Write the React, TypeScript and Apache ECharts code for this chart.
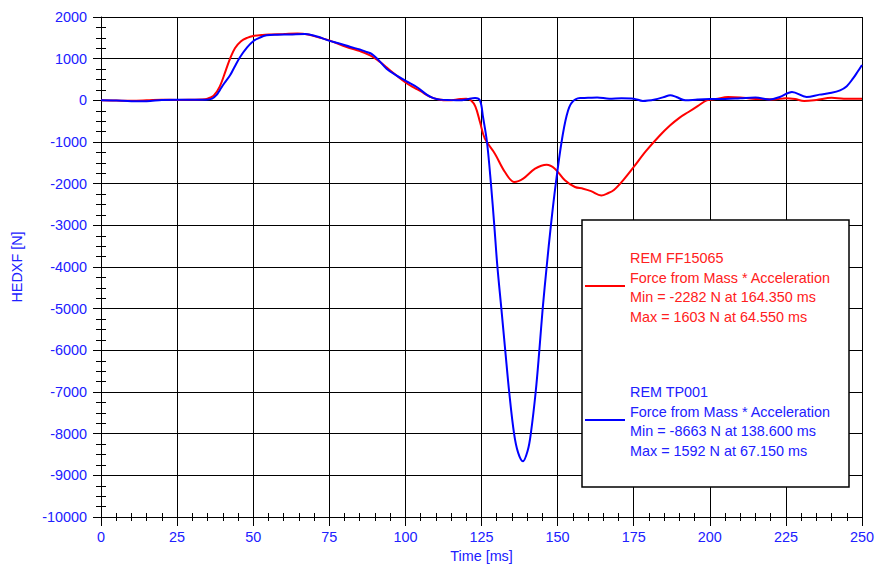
import React, { useEffect, useRef } from "react";
import * as echarts from "echarts";

const xTicks = [0, 25, 50, 75, 100, 125, 150, 175, 200, 225, 250];
const yTicks = [-10000, -9000, -8000, -7000, -6000, -5000, -4000, -3000, -2000, -1000, 0, 1000, 2000];

const redName = "REM FF15065";
const blueName = "REM TP001";
const redInfo = ["REM FF15065", "Force from Mass * Acceleration", "Min = -2282 N at 164.350 ms", "Max = 1603 N at 64.550 ms"];
const blueInfo = ["REM TP001", "Force from Mass * Acceleration", "Min = -8663 N at 138.600 ms", "Max = 1592 N at 67.150 ms"];

const redPoints: number[][] = [
  [0, 0], [5, -5], [10, -10], [15, 0], [20, 15], [25, 10], [30, 15], [33, 20], [35, 40],
  [37, 110], [39, 330], [41, 720], [42.4, 1000], [44, 1250], [46, 1420], [48, 1500], [50, 1545],
  [53, 1570], [56, 1580], [60, 1590], [64.55, 1603], [68, 1580], [72, 1500], [75, 1440],
  [80.7, 1280], [85.1, 1180], [88.4, 1080], [91.7, 920], [94, 780], [97, 600], [100.4, 410],
  [103, 300], [105, 220], [108, 90], [111, 20], [114, 0], [118, 30], [120, 40], [121.5, 0],
  [123, -150], [124.5, -520], [126.1, -920], [129.4, -1280], [132.7, -1720], [135.8, -1960],
  [138.7, -1880], [142.6, -1640], [146.4, -1545], [149.1, -1640], [152.4, -1920], [155.7, -2080],
  [158.4, -2120], [161, -2180], [164.35, -2282], [166.5, -2230], [168.5, -2150], [171.5, -1920],
  [175, -1600], [179, -1220], [183.5, -850], [187, -600], [190, -420], [193, -280], [196, -140],
  [199, 0], [202, 30], [206, 80], [210, 70], [214, 40], [218, 30], [221, 20], [225, 50], [228, 30],
  [231, -15], [235, 10], [240, 60], [244, 40], [248, 40], [250, 40],
];

const bluePoints: number[][] = [
  [0, 0], [5, -5], [10, -20], [15, -20], [20, 10], [25, 15], [30, 15], [34.5, 15], [36.5, 40],
  [38, 130], [39, 240], [40.5, 410], [42.4, 600], [44, 820], [45.7, 1040], [48, 1270], [50, 1420],
  [52, 1500], [54.4, 1560], [58, 1575], [62, 1580], [67.15, 1592], [71, 1530], [74.6, 1440],
  [78, 1370], [82, 1280], [85, 1220], [87.3, 1160], [89, 1110], [91, 980], [93.8, 760], [97, 600],
  [100.4, 456], [103.7, 320], [107, 137], [109, 60], [111.4, 17], [115, 5], [118, 0], [120, 20],
  [122.9, 57], [124.5, 0], [125.5, -400], [126.8, -1000], [128.1, -2000], [129.2, -3000],
  [130.2, -3975], [131.5, -4980], [132.8, -6000], [134.1, -7000], [135.7, -8000], [137, -8450],
  [138.6, -8663], [140.2, -8400], [141.2, -8000], [142.8, -7000], [144, -6000], [145.1, -5000],
  [146.4, -4000], [147.8, -3000], [149.4, -2000], [151.3, -1000], [153, -360], [154.6, -60],
  [157.4, 57], [160, 60], [163, 70], [167, 40], [171, 50], [175, 40], [178, -15], [182, 20],
  [185, 80], [187, 120], [189, 80], [192, 0], [196, 20], [200, 30], [205, 30], [210, 50], [215, 70],
  [219.6, 20], [223, 80], [227, 200], [231.8, 80], [236, 137], [240, 180], [242.8, 240], [245, 340],
  [247, 520], [248.5, 680], [250, 850],
];

const FONT = "Liberation Sans, Arial, sans-serif";
const FS = 14.4;
const BLUE_TXT = "#2020ff";
const RED_TXT = "#ff2020";

export default function App() {
  const ref = useRef<HTMLDivElement>(null);
  useEffect(() => {
    if (!ref.current) return;
    const chart = echarts.init(ref.current, null, { renderer: "svg" });
    const black = { color: "#000", width: 1 };
    const plain = (v: number) => String(v);
    const xBase = {
      type: "value" as const,
      min: xTicks[0],
      max: xTicks[xTicks.length - 1],
      interval: 25,
      position: "bottom" as const,
    };
    const yBase = {
      type: "value" as const,
      min: yTicks[0],
      max: yTicks[yTicks.length - 1],
      interval: 1000,
      position: "left" as const,
    };
    const legendGraphics: any[] = [
      {
        type: "rect",
        shape: { x: 582, y: 220, width: 267, height: 267 },
        style: { fill: "#fff", stroke: "#000", lineWidth: 1.5 },
        z: 100,
      },
      {
        type: "line",
        shape: { x1: 585, y1: 286, x2: 625, y2: 286 },
        style: { stroke: "#ff0000", lineWidth: 2 },
        z: 101,
      },
      {
        type: "line",
        shape: { x1: 585, y1: 420, x2: 625, y2: 420 },
        style: { stroke: "#0000ff", lineWidth: 2 },
        z: 101,
      },
    ];
    redInfo.forEach((t, i) => {
      legendGraphics.push({
        type: "text",
        x: 630,
        y: 258 + i * 19.5,
        z: 101,
        style: { text: t, fill: RED_TXT, font: `${FS}px ${FONT}`, verticalAlign: "middle", align: "left" },
      });
    });
    blueInfo.forEach((t, i) => {
      legendGraphics.push({
        type: "text",
        x: 630,
        y: 392 + i * 19.5,
        z: 101,
        style: { text: t, fill: BLUE_TXT, font: `${FS}px ${FONT}`, verticalAlign: "middle", align: "left" },
      });
    });

    chart.setOption({
      animation: false,
      backgroundColor: "#fff",
      grid: { left: 101, right: 13, top: 17, bottom: 48, containLabel: false, outerBoundsMode: "none" },
      xAxis: [
        {
          ...xBase,
          name: "Time [ms]",
          nameLocation: "middle",
          nameGap: 32,
          nameTextStyle: { color: BLUE_TXT, fontSize: FS, fontFamily: FONT },
          axisLine: { show: true, onZero: false, lineStyle: black },
          axisTick: { show: true, length: 9, lineStyle: black },
          minorTick: { show: true, splitNumber: 5, length: 4, lineStyle: black },
          splitLine: { show: true, lineStyle: black },
          axisLabel: { color: BLUE_TXT, fontSize: FS, fontFamily: FONT, margin: 13, formatter: plain },
        },
        {
          ...xBase,
          axisLine: { show: false, onZero: false },
          axisTick: { show: true, inside: true, length: 4, lineStyle: black },
          minorTick: { show: true, splitNumber: 5, length: 4, lineStyle: black },
          splitLine: { show: false },
          axisLabel: { show: false },
        },
      ],
      yAxis: [
        {
          ...yBase,
          name: "HEDXF [N]",
          nameLocation: "middle",
          nameGap: 77,
          nameTextStyle: { color: BLUE_TXT, fontSize: FS, fontFamily: FONT },
          axisLine: { show: true, onZero: false, lineStyle: black },
          axisTick: { show: true, length: 8, lineStyle: black },
          minorTick: { show: true, splitNumber: 4, length: 5, lineStyle: black },
          splitLine: { show: true, lineStyle: black },
          axisLabel: { color: BLUE_TXT, fontSize: FS, fontFamily: FONT, margin: 14, formatter: plain },
        },
        {
          ...yBase,
          axisLine: { show: false, onZero: false },
          axisTick: { show: true, inside: true, length: 5, lineStyle: black },
          minorTick: { show: true, splitNumber: 4, length: 5, lineStyle: black },
          splitLine: { show: false },
          axisLabel: { show: false },
        },
      ],
      series: [
        {
          name: redName,
          type: "line",
          data: redPoints,
          xAxisIndex: 0,
          yAxisIndex: 0,
          showSymbol: false,
          smooth: 0.35,
          lineStyle: { color: "#ff0000", width: 2 },
          z: 3,
        },
        {
          name: blueName,
          type: "line",
          data: bluePoints,
          xAxisIndex: 0,
          yAxisIndex: 0,
          showSymbol: false,
          smooth: 0.35,
          lineStyle: { color: "#0000ff", width: 2 },
          z: 4,
        },
      ],
      graphic: legendGraphics,
    });
    return () => chart.dispose();
  }, []);
  return (
    <div
      ref={ref}
      style={{ position: "fixed", left: 0, top: 0, width: 875, height: 565, background: "#fff" }}
    />
  );
}
